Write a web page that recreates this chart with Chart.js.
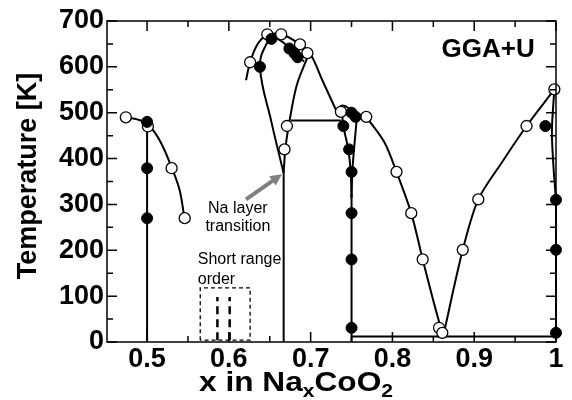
<!DOCTYPE html>
<html>
<head>
<meta charset="utf-8">
<script src="https://cdn.jsdelivr.net/npm/chart.js@4/dist/chart.umd.min.js"></script>
<style>body{margin:0;background:#fff}</style>
</head>
<body>
<canvas id="phaseChart" width="572" height="400"></canvas>
<script>
// Axis ticks
var xTickValues = [0.5, 0.6, 0.7, 0.8, 0.9, 1.0];
var xTickLabels = ['0.5', '0.6', '0.7', '0.8', '0.9', '1'];
var xMinorTicks = [0.55, 0.65, 0.75, 0.85, 0.95];
var yTickValues = [0, 100, 200, 300, 400, 500, 600, 700];
var yMinorTicks = [50, 150, 250, 350, 450, 550, 650];

// Calculated transition points [x, T]
var openPoints = [[0.474,490],[0.501,470],[0.530,379],[0.546,270],[0.626,610],[0.647,671],
    [0.664,671],[0.687,649],[0.696,630],[0.668,420],[0.671,471],[0.737,502],[0.768,491],
    [0.805,371],[0.823,281],[0.837,180],[0.857,31],[0.861,20],[0.886,201],[0.905,311],
    [0.964,471],[0.998,551]];
var filledPoints = [[0.5,480],[0.5,379],[0.5,270],[0.638,600],[0.652,661],[0.674,640],
    [0.680,630],[0.684,621],[0.750,500],[0.755,491],[0.740,471],[0.747,420],[0.750,371],
    [0.750,281],[0.750,180],[0.750,31],[0.987,471],[1.0,310],[1.0,201],[1.0,20]];

// Phase boundaries
var curve050 = [[0.474,490],[0.489,485],[0.501,475],[0.516,438],[0.530,381],[0.540,330],[0.546,265]];
var vert050 = [[0.5,0],[0.5,480]];
var vert067 = [[0.667,0],[0.667,368]];
var innerDome = [[0.667,368],[0.652,480],[0.638,600],[0.646,650],[0.656,663],[0.674,642],[0.684,622],[0.692,612]];
var riseC = [[0.667,368],[0.669,420],[0.673,470],[0.683,560],[0.699,633]];
var outerDome = [[0.621,571],[0.626,610],[0.636,652],[0.648,670],[0.664,671],[0.687,649],[0.699,630],[0.715,568],[0.731,506]];
var plateau483 = [[0.676,483],[0.737,483]];
var cap075 = [[0.731,506],[0.739,516],[0.750,506],[0.756,495],[0.768,491]];
var leftLeg075 = [[0.738,508],[0.740,471],[0.746,420],[0.749,371],[0.750,315]];
var rightLeg075 = [[0.757,498],[0.753,420],[0.751,371],[0.750,315]];
var vert075 = [[0.75,0],[0.75,320]];
var descent = [[0.768,491],[0.790,436],[0.805,371],[0.823,281],[0.837,180],[0.850,90],[0.862,12]];
var rise = [[0.862,12],[0.886,201],[0.905,311],[0.934,392],[0.964,471],[0.998,551]];
var edge100 = [[0.998,551],[0.995,460],[0.997,380],[1.0,300],[1.0,0]];
var floor12 = [[0.75,12],[1.0,12]];

// Short range order box
var sroBox = [[0.565,4],[0.565,118],[0.626,118],[0.626,4],[0.565,4]];
var sroLine1 = [[0.586,4],[0.586,98]];
var sroLine2 = [[0.601,4],[0.601,98]];

// Arrow for "Na layer transition"
var arrowFrom = [0.621, 311];
var arrowTo = [0.665, 366];

var FONT = "'Liberation Sans', Arial, sans-serif";

function pts(arr) {
    return arr.map(function(p) { return { x: p[0], y: p[1] }; });
}

function lineSet(arr, tension, extra) {
    var ds = {
        data: pts(arr),
        showLine: true,
        borderColor: '#000',
        borderWidth: 2,
        pointRadius: 0,
        tension: tension,
        clip: false
    };
    for (var k in extra) ds[k] = extra[k];
    return ds;
}

// Frame, inside ticks, annotations and titles
var decorPlugin = {
    id: 'decor',
    afterDatasetsDraw: function(chart) {
        var ctx = chart.ctx;
        var a = chart.chartArea;
        var xs = chart.scales.x, ys = chart.scales.y;
        ctx.save();
        ctx.strokeStyle = '#000';
        ctx.lineWidth = 1.5;
        ctx.strokeRect(a.left, a.top, a.right - a.left, a.bottom - a.top);

        function tickX(v, len) {
            var px = xs.getPixelForValue(v);
            ctx.beginPath();
            ctx.moveTo(px, a.bottom); ctx.lineTo(px, a.bottom - len);
            ctx.moveTo(px, a.top); ctx.lineTo(px, a.top + len);
            ctx.stroke();
        }
        function tickY(v, len) {
            var py = ys.getPixelForValue(v);
            ctx.beginPath();
            ctx.moveTo(a.left, py); ctx.lineTo(a.left + len, py);
            ctx.moveTo(a.right, py); ctx.lineTo(a.right - len, py);
            ctx.stroke();
        }
        xTickValues.forEach(function(v) { tickX(v, 10); });
        xMinorTicks.forEach(function(v) { tickX(v, 6); });
        yTickValues.forEach(function(v) { tickY(v, 10); });
        yMinorTicks.forEach(function(v) { tickY(v, 6); });

        // arrow
        var x0 = xs.getPixelForValue(arrowFrom[0]), y0 = ys.getPixelForValue(arrowFrom[1]);
        var x1 = xs.getPixelForValue(arrowTo[0]), y1 = ys.getPixelForValue(arrowTo[1]);
        var ang = Math.atan2(y1 - y0, x1 - x0);
        var head = 13;
        ctx.strokeStyle = '#808080';
        ctx.fillStyle = '#808080';
        ctx.lineWidth = 4;
        ctx.beginPath();
        ctx.moveTo(x0, y0);
        ctx.lineTo(x1 - head * 0.8 * Math.cos(ang), y1 - head * 0.8 * Math.sin(ang));
        ctx.stroke();
        ctx.beginPath();
        ctx.moveTo(x1, y1);
        ctx.lineTo(x1 - head * Math.cos(ang - 0.45), y1 - head * Math.sin(ang - 0.45));
        ctx.lineTo(x1 - head * Math.cos(ang + 0.45), y1 - head * Math.sin(ang + 0.45));
        ctx.closePath();
        ctx.fill();

        // annotations
        ctx.fillStyle = '#000';
        ctx.textBaseline = 'middle';
        ctx.font = '16px ' + FONT;
        ctx.textAlign = 'center';
        ctx.fillText('Na layer', xs.getPixelForValue(0.611), ys.getPixelForValue(292));
        ctx.fillText('transition', xs.getPixelForValue(0.611), ys.getPixelForValue(251));
        ctx.textAlign = 'left';
        ctx.fillText('Short range', xs.getPixelForValue(0.562), ys.getPixelForValue(179));
        ctx.fillText('order', xs.getPixelForValue(0.562), ys.getPixelForValue(137));
        ctx.font = 'bold 26px ' + FONT;
        ctx.fillText('GGA+U', xs.getPixelForValue(0.860), ys.getPixelForValue(637));

        // y title
        ctx.save();
        ctx.translate(36, 176);
        ctx.rotate(-Math.PI / 2);
        ctx.textAlign = 'center';
        ctx.textBaseline = 'alphabetic';
        ctx.font = 'bold 27px ' + FONT;
        ctx.fillText('Temperature [K]', 0, 0);
        ctx.restore();

        // x title with subscripts, stretched a little to the original width
        var parts = [['x in Na', 27, 0], ['x', 18, 6], ['CoO', 27, 0], ['2', 18, 6]];
        var total = 0;
        parts.forEach(function(p) {
            ctx.font = 'bold ' + p[1] + 'px ' + FONT;
            total += ctx.measureText(p[0]).width;
        });
        var stretch = 194 / total;
        ctx.save();
        ctx.translate(199, 391);
        ctx.scale(stretch, 1);
        ctx.textAlign = 'left';
        ctx.textBaseline = 'alphabetic';
        var cx = 0;
        parts.forEach(function(p) {
            ctx.font = 'bold ' + p[1] + 'px ' + FONT;
            ctx.fillText(p[0], cx, p[2]);
            cx += ctx.measureText(p[0]).width;
        });
        ctx.restore();
        ctx.restore();
    }
};

var ctx = document.getElementById('phaseChart').getContext('2d');
var phaseChart = new Chart(ctx, {
    type: 'scatter',
    data: {
        datasets: [
            { data: pts(filledPoints), pointRadius: 5.5, pointBackgroundColor: '#000', pointBorderColor: '#000', pointBorderWidth: 1, clip: false },
            { data: pts(openPoints), pointRadius: 5.5, pointBackgroundColor: '#fff', pointBorderColor: '#000', pointBorderWidth: 1.3, clip: false },
            lineSet(curve050, 0.35),
            lineSet(vert050, 0),
            lineSet(vert067, 0),
            lineSet(innerDome, 0.4),
            lineSet(riseC, 0.3),
            lineSet(outerDome, 0.4),
            lineSet(plateau483, 0),
            lineSet(cap075, 0.3),
            lineSet(leftLeg075, 0.3),
            lineSet(rightLeg075, 0.3),
            lineSet(vert075, 0),
            lineSet(descent, 0.3),
            lineSet(rise, 0.3),
            lineSet(edge100, 0.3),
            lineSet(floor12, 0),
            lineSet(sroBox, 0, { borderWidth: 1.3, borderDash: [4, 3] }),
            lineSet(sroLine1, 0, { borderWidth: 2.5, borderDash: [8, 5] }),
            lineSet(sroLine2, 0, { borderWidth: 2.5, borderDash: [8, 5] })
        ]
    },
    options: {
        responsive: false,
        animation: false,
        devicePixelRatio: 1,
        layout: { padding: { left: 0, top: 21, right: 16, bottom: 0 } },
        plugins: { legend: { display: false }, tooltip: { enabled: false } },
        scales: {
            x: {
                type: 'linear',
                min: 0.451,
                max: 1.0,
                grid: { display: false, drawTicks: false },
                border: { display: false },
                afterBuildTicks: function(scale) {
                    scale.ticks = xTickValues.map(function(v) { return { value: v }; });
                },
                afterFit: function(scale) { scale.height = 58; },
                ticks: {
                    padding: 1,
                    color: '#000',
                    font: { family: FONT, size: 27, weight: 'bold' },
                    maxRotation: 0,
                    autoSkip: false,
                    callback: function(v) {
                        var i = xTickValues.indexOf(v);
                        return i >= 0 ? xTickLabels[i] : '';
                    }
                }
            },
            y: {
                type: 'linear',
                min: 0,
                max: 700,
                grid: { display: false, drawTicks: false },
                border: { display: false },
                afterBuildTicks: function(scale) {
                    scale.ticks = yTickValues.map(function(v) { return { value: v }; });
                },
                afterFit: function(scale) { scale.width = 107; },
                ticks: {
                    padding: 3,
                    color: '#000',
                    font: { family: FONT, size: 27, weight: 'bold' }
                }
            }
        }
    },
    plugins: [decorPlugin]
});
</script>
</body>
</html>
